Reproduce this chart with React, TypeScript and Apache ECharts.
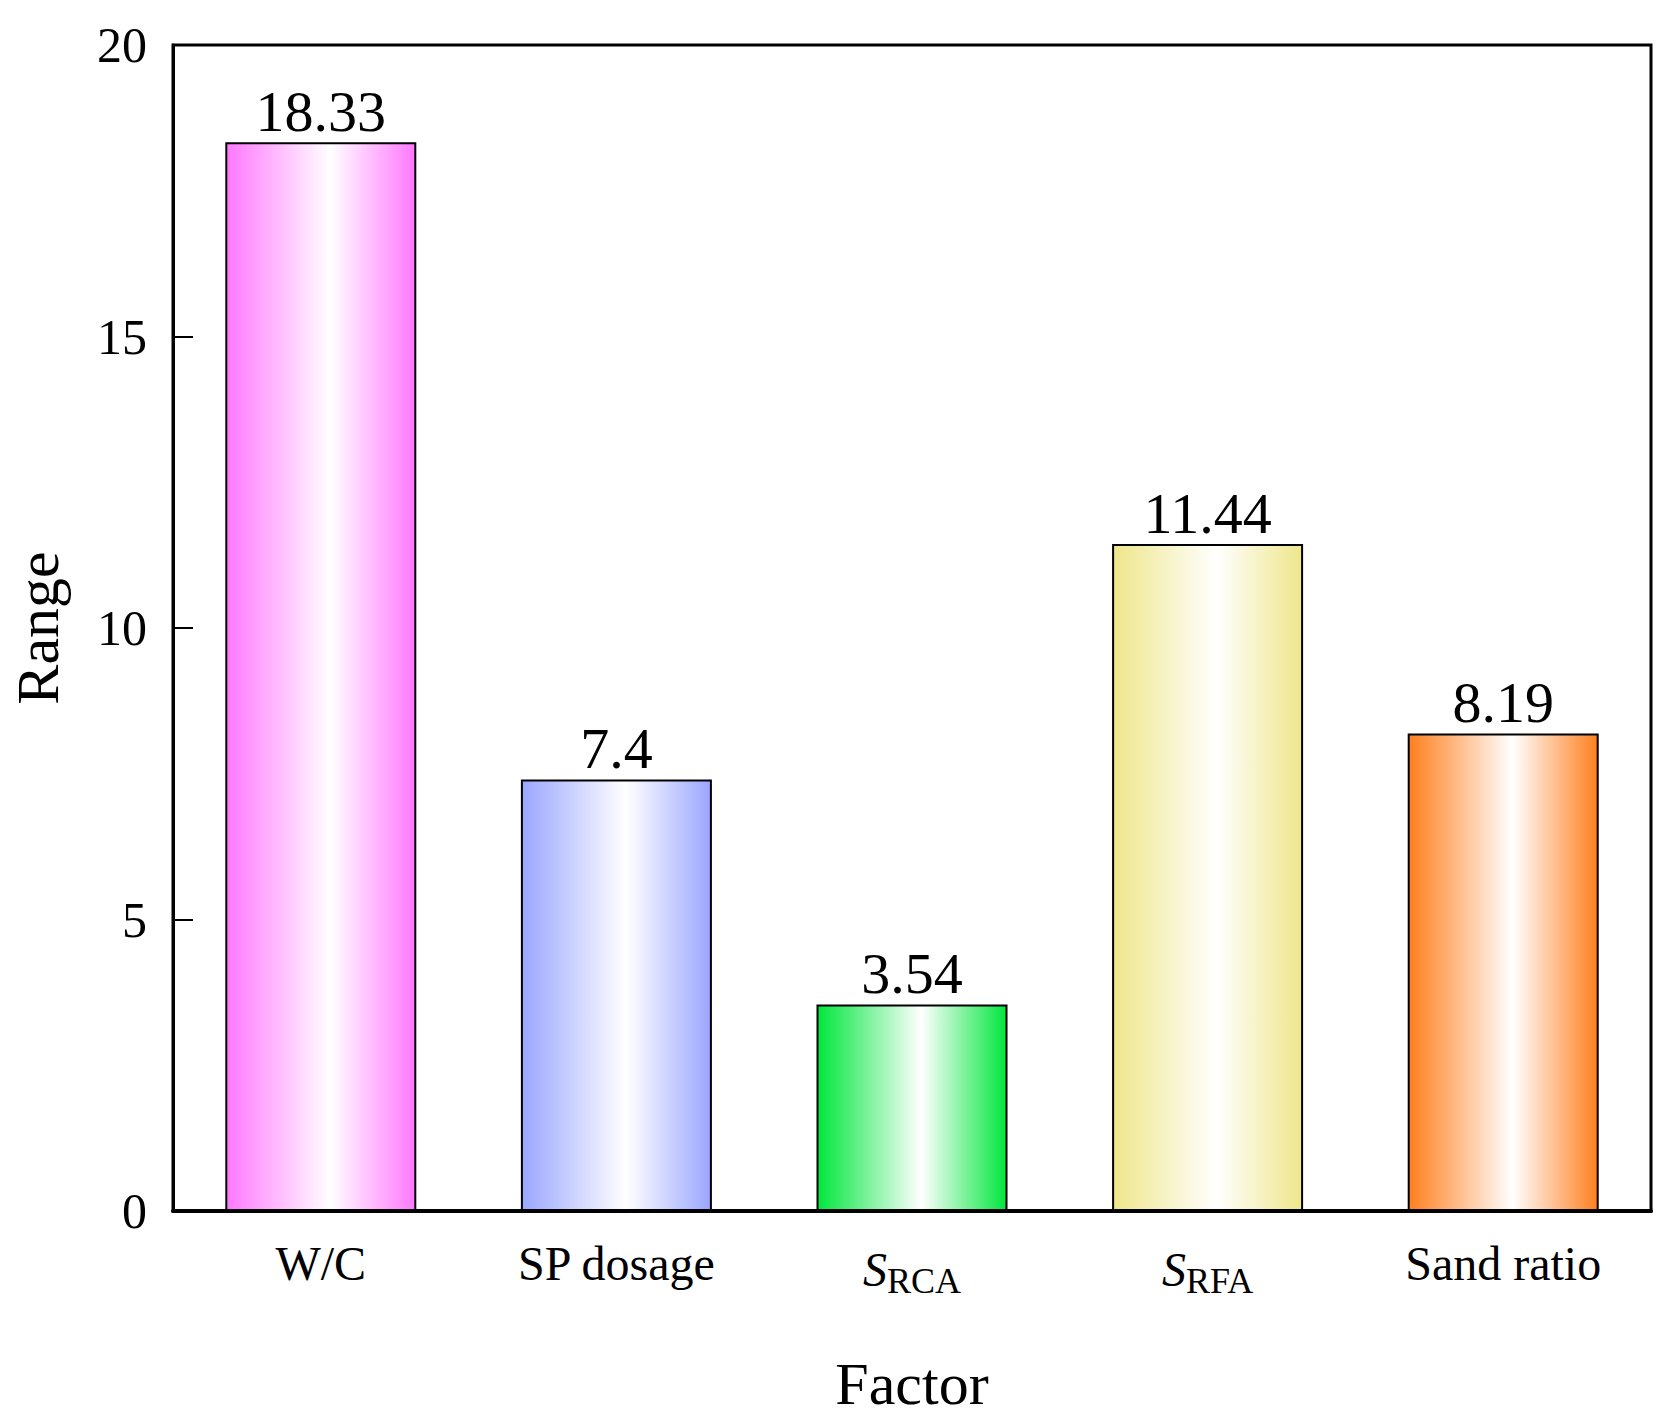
import React, { useEffect, useRef } from "react";
import * as echarts from "echarts";

const categories = ["W/C", "SP dosage", "S_RCA", "S_RFA", "Sand ratio"];
const values = [18.33, 7.4, 3.54, 11.44, 8.19];
const labels = ["18.33", "7.4", "3.54", "11.44", "8.19"];
const colors = ["#ff78ff", "#9aa6ff", "#00e63c", "#eee68a", "#ff7f1e"];
const yTicks = [0, 5, 10, 15, 20];

const F = "'Liberation Serif', 'Times New Roman', serif";

export default function App() {
  const ref = useRef<HTMLDivElement>(null);
  useEffect(() => {
    const chart = echarts.init(ref.current!, null, { renderer: "svg" });
    chart.setOption({
      animation: false,
      grid: { left: 165, right: 1678 - 1651, top: 45, bottom: 1419 - 1234, show: true, borderColor: "#000", borderWidth: 3, backgroundColor: "transparent" },
      xAxis: {
        type: "category",
        data: categories,
        name: "Factor",
        nameLocation: "middle",
        nameGap: 143,
        nameTextStyle: { fontFamily: F, fontSize: 60, color: "#000" },
        axisLine: { lineStyle: { color: "#000", width: 4 } },
        axisTick: { inside: true, length: 30, alignWithLabel: true, lineStyle: { color: "#000", width: 2 } },
        axisLabel: {
          interval: 0,
          margin: 28,
          fontFamily: F,
          fontSize: 48,
          color: "#000",
          formatter: (v: string) => {
            if (v.startsWith("S_")) return "{i|S}{s|" + v.slice(2) + "}";
            return v;
          },
          rich: {
            i: { fontFamily: F, fontSize: 48, fontStyle: "italic", color: "#000" },
            s: { fontFamily: F, fontSize: 36, color: "#000", padding: [24, 0, 0, 0] },
          },
        },
      },
      yAxis: {
        type: "value",
        min: 0,
        max: 20,
        interval: 5,
        name: "Range",
        nameLocation: "middle",
        nameGap: 105,
        nameTextStyle: { fontFamily: F, fontSize: 60, color: "#000" },
        axisLine: { show: true, lineStyle: { color: "#000", width: 3 } },
        axisTick: { show: true, inside: true, length: 20, lineStyle: { color: "#000", width: 2 } },
        splitLine: { show: false },
        axisLabel: { margin: 26, fontFamily: F, fontSize: 50, color: "#000", formatter: (v: number) => (yTicks.includes(v) ? String(v) : "") },
      },
      series: [
        {
          type: "bar",
          barWidth: 191,
          data: values.map((v, i) => ({
            value: v,
            itemStyle: {
              color: new echarts.graphic.LinearGradient(0, 0, 1, 0, [
                { offset: 0, color: colors[i] },
                { offset: 0.55, color: "#ffffff" },
                { offset: 1, color: colors[i] },
              ]),
              borderColor: "#000",
              borderWidth: 2,
            },
            label: {
              show: true,
              position: "top",
              distance: 2,
              formatter: labels[i],
              fontFamily: F,
              fontSize: 58,
              color: "#000",
            },
          })),
        },
      ],
    });
    return () => chart.dispose();
  }, []);
  return <div ref={ref} style={{ position: "absolute", left: 0, top: 0, width: 1678, height: 1419, background: "#fff" }} />;
}
